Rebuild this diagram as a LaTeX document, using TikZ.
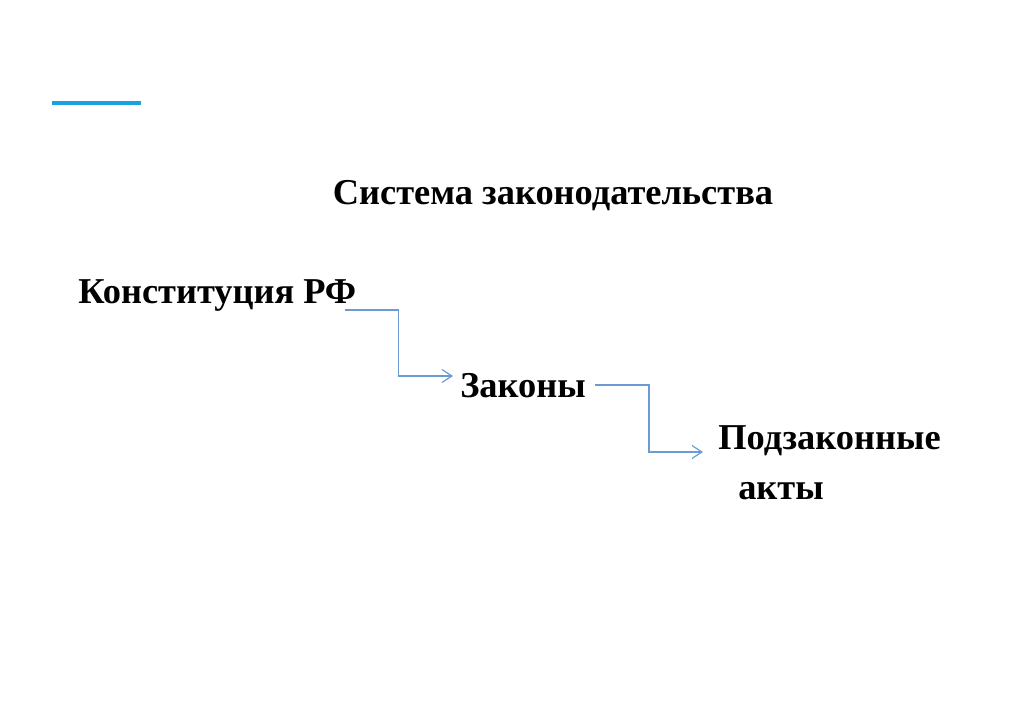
\documentclass[tikz,border=0pt]{standalone}
\usepackage{fontspec}
\setmainfont{Liberation Serif}
\usetikzlibrary{positioning,arrows.meta,calc}
\definecolor{barcyan}{HTML}{1BA1E2}
\definecolor{linkblue}{HTML}{6A9BD3}

\begin{document}
\begin{tikzpicture}[x=0.75pt, y=-0.75pt,
      lbl/.style={inner sep=0pt, font=\bfseries\fontsize{27.3}{36}\selectfont},
      link/.style={-{Straight Barb[length=2.6mm,width=3.4mm]}, draw=linkblue, line width=0.9pt},
    ]
      \useasboundingbox (0,0) rectangle (1024,723);
      \draw[barcyan, line width=3pt] (52,103) -- (141,103);
      \node[lbl] (title) at (553,196) {Система законодательства};
      \node[lbl, anchor=west] (konst) at (78,296) {Конституция РФ};
      \node[lbl] (zakony) at (523,386) {Законы};
      \node[lbl, anchor=west] (podzak) at (718,441) {Подзаконные};
      \node[lbl, anchor=base west] (akty) at ($(podzak.base west)+(20,50)$) {акты};
      \draw[link] ($(konst.east)+(-12,14)$) -- ++(54,0) |- ($(zakony.west)+(-7,-10)$);
      \draw[link] ($(zakony.east)+(9,-1)$) -- ++(54,0) |- ($(podzak.west)+(-15,11)$);
    \end{tikzpicture}
\end{document}
